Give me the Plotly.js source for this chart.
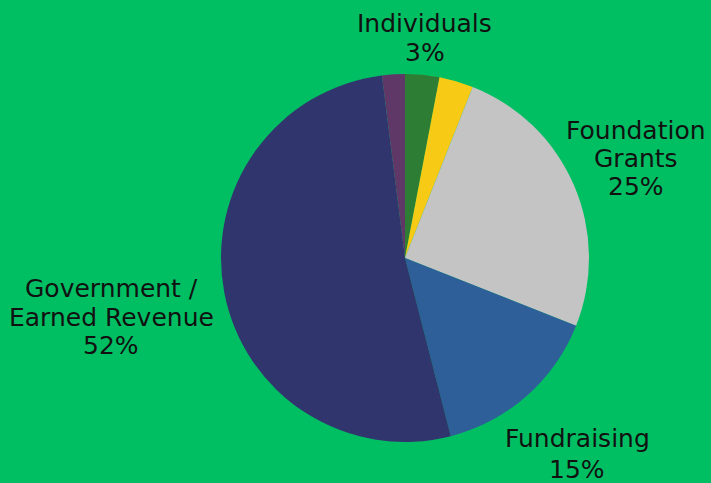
<!DOCTYPE html>
<html>
<head>
<meta charset="utf-8">
<script src="https://cdn.plot.ly/plotly-3.0.1.min.js"></script>
<style>html,body{margin:0;padding:0;background:#00BF63;}#chart{width:711px;height:483px;}</style>
</head>
<body>
<div id="chart"></div>
<script>
const categories = ["Individuals", "Other A", "Foundation Grants", "Fundraising", "Government / Earned Revenue", "Other B"];
const values = [3, 3, 25, 15, 52, 2];
const colors = ["#2E7D34", "#F7CB15", "#C4C4C4", "#2E5F99", "#31356E", "#5F3868"];
const labelLines = [["Individuals", "3%"], [], ["Foundation", "Grants", "25%"], ["Fundraising", "15%"], ["Government /", "Earned Revenue", "52%"], []];

const W = 711, H = 483;
// label line centres (px) for layout only
const labelX = [425, null, 636, 577, 111, null];
const labelY = [[24, 52], [], [130, 158, 186], [438, 469], [288, 317, 345], []];

const annotations = [];
labelLines.forEach((lines, i) => {
  lines.forEach((t, j) => {
    annotations.push({
      text: t, showarrow: false,
      xref: 'paper', yref: 'paper',
      x: labelX[i] / W, y: 1 - labelY[i][j] / H,
      xanchor: 'center', yanchor: 'middle', align: 'center',
      font: {family: 'DejaVu Sans, sans-serif', size: 25, color: '#111111'}
    });
  });
});

const trace = {
  type: 'pie',
  labels: categories,
  values: values,
  sort: false,
  direction: 'clockwise',
  rotation: 0,
  textinfo: 'none',
  hoverinfo: 'label+percent',
  marker: {colors: colors, line: {width: 0}},
  domain: {x: [221 / W, 589 / W], y: [41 / H, 409 / H]},
  showlegend: false
};

Plotly.newPlot('chart', [trace], {
  width: W, height: H,
  margin: {l: 0, r: 0, t: 0, b: 0},
  paper_bgcolor: '#00BF63',
  plot_bgcolor: '#00BF63',
  showlegend: false,
  annotations: annotations
}, {displayModeBar: false, staticPlot: true});
</script>
</body>
</html>
